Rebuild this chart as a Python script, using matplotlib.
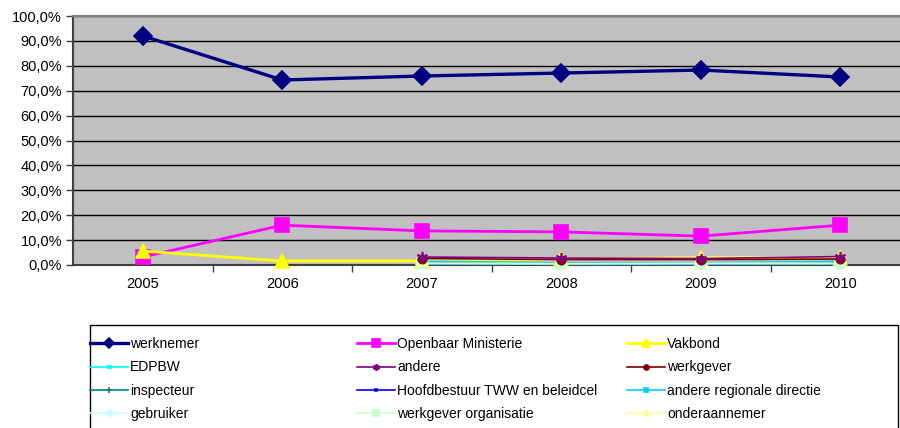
import numpy as np
import matplotlib
matplotlib.use('Agg')
import matplotlib.pyplot as plt
from matplotlib.patches import Rectangle

plt.rcParams['font.family'] = ['Liberation Sans', 'DejaVu Sans']

# Data (percentages)
years = ['2005', '2006', '2007', '2008', '2009', '2010']
nan = np.nan

werknemer = [92.0, 74.3, 75.9, 77.1, 78.3, 75.5]
openbaar_ministerie = [3.2, 16.0, 13.7, 13.3, 11.6, 16.0]
vakbond = [5.6, 1.6, 1.6, 2.4, 3.0, 3.0]
edpbw = [nan, nan, 0.4, 0.3, 0.3, 0.4]
andere = [nan, nan, 3.2, 2.8, 2.6, 3.4]
werkgever = [nan, nan, 2.6, 2.2, 2.2, 2.4]
inspecteur = [nan, nan, 0.5, 0.4, 0.4, 0.5]
hoofdbestuur = [nan, nan, 1.0, 0.6, 0.6, 0.8]
andere_regionale_directie = [nan, nan, 1.6, 0.8, 0.9, 1.4]
gebruiker = [nan, nan, 0.6, 0.5, 0.6, 0.6]
werkgever_organisatie = [nan, nan, 0.8, 0.5, 0.6, 0.7]
onderaannemer = [nan, nan, 2.2, 2.6, 3.0, 3.2]

series = [
    ('werknemer', werknemer, '#000080', 'D', 9, 2.4),
    ('Openbaar Ministerie', openbaar_ministerie, '#FF00FF', 's', 10, 2.0),
    ('Vakbond', vakbond, '#FFFF00', '^', 10, 2.0),
    ('EDPBW', edpbw, '#00FFFF', 'x', 6, 1.2),
    ('andere', andere, '#800080', (6, 2, 0), 8, 1.2),
    ('werkgever', werkgever, '#800000', 'o', 6, 1.2),
    ('inspecteur', inspecteur, '#008080', '+', 7, 1.2),
    ('Hoofdbestuur TWW en beleidcel', hoofdbestuur, '#0000FF', 's', 3, 1.2),
    ('andere regionale directie', andere_regionale_directie, '#00CCFF', 's', 6, 1.2),
    ('gebruiker', gebruiker, '#CCFFFF', 'D', 6, 1.2),
    ('werkgever organisatie', werkgever_organisatie, '#CCFFCC', 's', 7, 1.2),
    ('onderaannemer', onderaannemer, '#FFFF99', '^', 7, 1.2),
]

fig = plt.figure(figsize=(9, 4.28), dpi=100)
ax = fig.add_axes([73 / 900, 163 / 428, 837 / 900, 249 / 428])
ax.set_facecolor('#C0C0C0')

x = np.arange(len(years))
handles = []
# later series drawn on top; werknemer and the 'andere' stars kept in front
for i, (name, vals, col, mk, ms, lw) in enumerate(series):
    z = {0: 4, 4: 3.6, 5: 3.5}.get(i, 3)
    h, = ax.plot(x, vals, color=col, marker=mk, markersize=ms, linewidth=lw,
                 markeredgecolor=col, markeredgewidth=1.2, zorder=z,
                 clip_on=False)
    handles.append(h)

ax.set_xlim(-0.5, 5.5)
ax.set_ylim(0, 100)
ax.set_yticks(np.arange(0, 101, 10))
ax.set_yticklabels([f'{v},0%' for v in range(0, 101, 10)], fontsize=10.5)
ax.yaxis.grid(True, color='black', linewidth=1)
ax.set_axisbelow(True)

ax.set_xticks(x)
ax.set_xticklabels(years, fontsize=10.5)
ax.tick_params(axis='x', length=0, pad=9)
ax.set_xticks(np.arange(0.5, 5.5, 1), minor=True)
ax.tick_params(axis='x', which='minor', length=5, width=1, color='#404040')
ax.tick_params(axis='y', length=5, width=1, color='#404040', pad=3)

for s in ['top', 'right']:
    ax.spines[s].set_color('#808080')
    ax.spines[s].set_linewidth(1.5)
ax.spines['left'].set_color('#404040')
ax.spines['bottom'].set_color('#404040')
ax.spines['left'].set_linewidth(1.5)
ax.spines['bottom'].set_linewidth(1.5)

# legend frame
fig.patches.append(Rectangle((90 / 900, -0.05), 808 / 900, (428 - 325) / 428 + 0.05,
                             transform=fig.transFigure, facecolor='white',
                             edgecolor='black', linewidth=1))

col_x = [90, 357, 627]
for c in range(3):
    hs = [handles[r * 3 + c] for r in range(4)]
    labels = [series[r * 3 + c][0] for r in range(4)]
    fig.legend(hs, labels, loc='upper left',
               bbox_to_anchor=(col_x[c] / 900, 1 - 337 / 428),
               frameon=False, fontsize=10, handlelength=2.75,
               handletextpad=0.15, labelspacing=0.68, borderpad=0,
               borderaxespad=0, markerscale=0.6)

fig.savefig('out.png', dpi=100)
